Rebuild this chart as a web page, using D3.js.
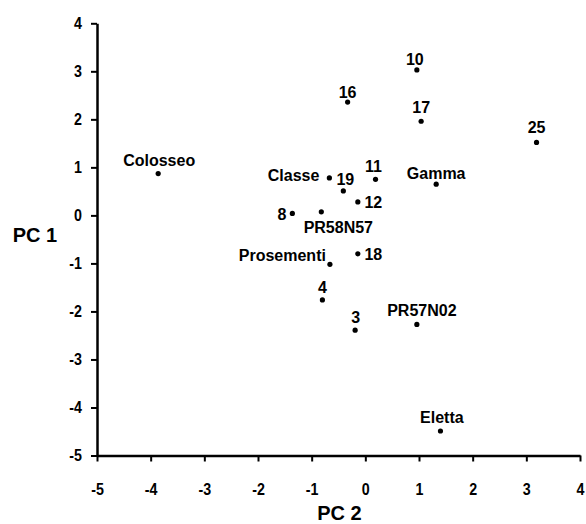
<!DOCTYPE html>
<html>
<head>
<meta charset="utf-8">
<script src="https://cdn.jsdelivr.net/npm/d3@7"></script>
<style>
  html, body { margin: 0; padding: 0; background: #fff; }
  svg { display: block; }
  .tick text { font-family: "Liberation Sans", Arial, Helvetica, sans-serif; font-weight: bold; font-size: 17px; fill: #000; }
  .lbl { font-family: "Liberation Sans", Arial, Helvetica, sans-serif; font-weight: bold; font-size: 16px; fill: #000; }
  .title { font-family: "Liberation Sans", Arial, Helvetica, sans-serif; font-weight: bold; font-size: 20px; fill: #000; }
</style>
</head>
<body>
<script>
// ---- data ----
const names = ["Colosseo", "16", "Classe", "19", "11", "12", "8", "PR58N57", "Prosementi", "18", "4", "3", "10", "17", "25", "Gamma", "PR57N02", "Eletta"];
const pc2 = [-3.86, -0.33, -0.67, -0.41, 0.19, -0.14, -1.36, -0.82, -0.66, -0.14, -0.80, -0.19, 0.96, 1.04, 3.19, 1.32, 0.96, 1.40];
const pc1 = [0.87, 2.36, 0.78, 0.51, 0.75, 0.28, 0.04, 0.075, -1.02, -0.80, -1.76, -2.39, 3.03, 1.96, 1.52, 0.65, -2.27, -4.49];
const xTicks = [-5, -4, -3, -2, -1, 0, 1, 2, 3, 4];
const yTicks = [-5, -4, -3, -2, -1, 0, 1, 2, 3, 4];
const xTitle = "PC 2";
const yTitle = "PC 1";

// label placement (annotation offsets from each point): [dx, dy, anchor]
const labelPlacement = [
  [1, -8, "middle"], [0, -4.5, "middle"], [-10, 3, "end"], [2, -5.7, "middle"],
  [-2, -7.6, "middle"], [6.6, 5.6, "start"], [-6, 7, "end"], [17, 21, "middle"],
  [-4, -3, "end"], [6.6, 6.3, "start"], [0, -6.7, "middle"], [0.5, -7.3, "middle"],
  [-2, -4.7, "middle"], [0, -8.7, "middle"], [0, -9.6, "middle"], [0, -5.3, "middle"],
  [5, -8.3, "middle"], [1.4, -7.7, "middle"]
];

const W = 586, H = 524;
const NARROW = 0.84;
const svg = d3.select("body").append("svg").attr("width", W).attr("height", H);

const x = d3.scaleLinear().domain([-5, 4]).range([97, 580]);
const y = d3.scaleLinear().domain([-5, 4]).range([455.5, 23.3]);

const xAxis = svg.append("g")
  .attr("transform", `translate(0,${y(-5)})`)
  .call(d3.axisBottom(x).tickValues(xTicks).tickFormat(d3.format("d")).tickSize(6).tickPadding(21).tickSizeOuter(0));
const yAxis = svg.append("g")
  .attr("transform", `translate(${x(-5)},0)`)
  .call(d3.axisLeft(y).tickValues(yTicks).tickFormat(d3.format("d")).tickSize(6).tickPadding(9).tickSizeOuter(0));

[xAxis, yAxis].forEach(g => {
  g.select(".domain").attr("stroke", "#000").attr("stroke-width", 2.5);
  g.selectAll(".tick line").attr("stroke", "#000").attr("stroke-width", 2);
  g.selectAll(".tick text").text(d => d < 0 ? "-" + Math.abs(d) : d);
});
// condensed tick labels
xAxis.selectAll(".tick text").attr("transform", `scale(${NARROW},1)`);
yAxis.selectAll(".tick text").each(function () {
  const t = d3.select(this);
  const x0 = +t.attr("x");
  t.attr("x", x0 / NARROW).attr("transform", `scale(${NARROW},1)`);
});

const pts = names.map((n, i) => ({ name: n, x: pc2[i], y: pc1[i], p: labelPlacement[i] }));

svg.append("g").selectAll("circle").data(pts).join("circle")
  .attr("cx", d => x(d.x)).attr("cy", d => y(d.y)).attr("r", 2.6).attr("fill", "#000");

svg.append("g").selectAll("text").data(pts).join("text")
  .attr("class", "lbl")
  .attr("x", d => x(d.x) + d.p[0])
  .attr("y", d => y(d.y) + d.p[1])
  .attr("text-anchor", d => d.p[2])
  .text(d => d.name);

svg.append("text").attr("class", "title")
  .attr("x", (x(-5) + x(4)) / 2 + 1).attr("y", 519.5)
  .attr("text-anchor", "middle").text(xTitle);
svg.append("text").attr("class", "title")
  .attr("x", 12.7).attr("y", 242.3)
  .attr("text-anchor", "start").text(yTitle);
</script>
</body>
</html>
